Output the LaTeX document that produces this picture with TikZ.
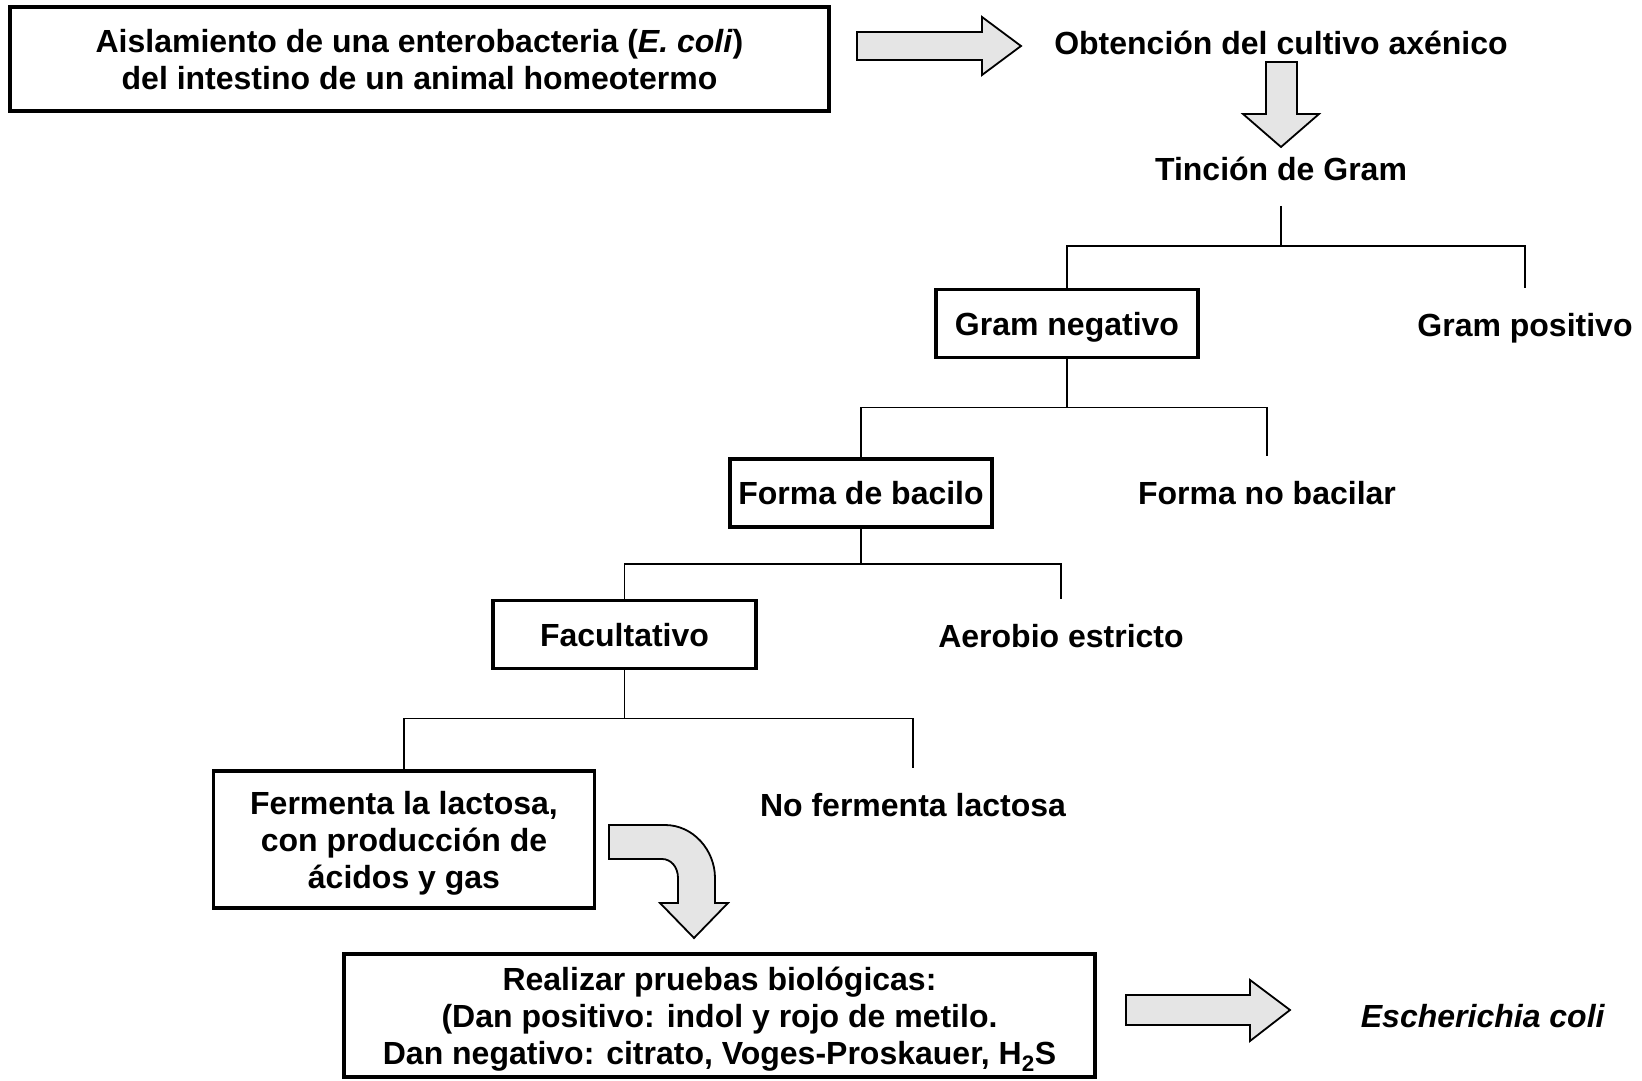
\documentclass[tikz,border=0pt]{standalone}
\usepackage{fontspec}
\setmainfont{Liberation Sans}
\usetikzlibrary{positioning}

\begin{document}
\begin{tikzpicture}[x=1pt, y=-1pt, font=\fontsize{32}{37}\selectfont\bfseries]
    \tikzstyle{caja}   = [rectangle, draw, line width=3.5, inner sep=0, text depth=0pt, align=center]
    \tikzstyle{texto}  = [minimum height=74, inner sep=0, text depth=0pt, align=center]
    \tikzstyle{rama}   = [line width=1.5]
    \tikzstyle{bloque} = [draw, fill=gray!20, line width=1.8]

    \useasboundingbox (0,0) rectangle (1642,1081);

    \node[caja, minimum width=819, minimum height=104] (aisl)    at (419.5,59)    {Aislamiento de una enterobacteria (\textit{E. coli})\\ del intestino de un animal homeotermo};
    \node[texto]                                      (obt)     at (1281,43)     {Obtención del cultivo axénico};
    \node[texto]                                      (tincion) at (1281,168.6)  {Tinción de Gram};
    \node[caja, minimum width=262, minimum height=68] (gneg)    at (1067,323.5)  {Gram negativo};
    \node[texto]                                      (gpos)    at (1525,325)    {Gram positivo};
    \node[caja, minimum width=262, minimum height=68] (bac)     at (861,493)     {Forma de bacilo};
    \node[texto]                                      (nobac)   at (1267,493)    {Forma no bacilar};
    \node[caja, minimum width=263, minimum height=68] (fac)     at (624.5,634.5) {Facultativo};
    \node[texto]                                      (aer)     at (1061,636)    {Aerobio estricto};
    \node[caja, minimum width=381, minimum height=137] (ferm)   at (404,839.5)   {Fermenta la lactosa,\\ con producción de\\ ácidos y gas};
    \node[texto]                                      (nofer)   at (913,805)     {No fermenta lactosa};
    \node[caja, minimum width=751, minimum height=123] (pruebas) at (719.5,1015.5) {Realizar pruebas biológicas:\\ (Dan positivo: indol y rojo de metilo.\\ Dan negativo: citrato, Voges-Proskauer, H\textsubscript{2}S};
    \node[texto]                                      (ecoli)   at (1483,1016)   {\textit{Escherichia coli}};

    % flechas gruesas
    \draw[bloque] (857,32) -- (982,32) -- (982,17) -- (1021,46) -- (982,75) -- (982,60) -- (857,60) -- cycle;
    \draw[bloque] (1266,62) -- (1297,62) -- (1297,114) -- (1319,114) -- (1281,147) -- (1243,114) -- (1266,114) -- cycle;
    \draw[bloque] (1126,995) -- (1250,995) -- (1250,980) -- (1290,1010) -- (1250,1041) -- (1250,1025) -- (1126,1025) -- cycle;
    \draw[bloque] (609,825) -- (665,825) .. controls (693,825) and (715,850) .. (715,878) -- (715,903) -- (728,903)
        -- (694,938) -- (660,903) -- (678,903) -- (678,878) .. controls (678,867) and (671,859) .. (662,859) -- (609,859) -- cycle;

    % ramas
    \draw[rama] (tincion.south) -- ++(0,40) coordinate (r1) -| (gneg.north) (r1) -| (gpos.north);
    \draw[rama] (gneg.south) -- ++(0,48) coordinate (r2) -| (bac.north) (r2) -| (nobac.north);
    \draw[rama] (bac.south) -- ++(0,35) coordinate (r3) -| (fac.north) (r3) -| (aer.north);
    \draw[rama] (fac.south) -- ++(0,48) coordinate (r4) -| (ferm.north) (r4) -| (nofer.north);
\end{tikzpicture}
\end{document}
